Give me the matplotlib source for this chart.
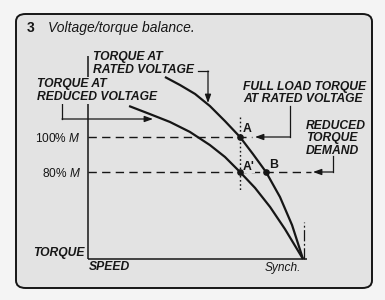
import matplotlib
matplotlib.use("Agg")
import matplotlib.pyplot as plt
from matplotlib.patches import FancyBboxPatch

plt.rcParams['font.family'] = ['Liberation Sans', 'DejaVu Sans']
plt.rcParams['mathtext.fontset'] = 'custom'
plt.rcParams['mathtext.it'] = 'Liberation Sans:italic'
plt.rcParams['mathtext.rm'] = 'Liberation Sans'

# ---------------- data (speed in % of synchronous, torque in % of M) ----------------
speed_rated = [35.8, 42.8, 49.8, 56.7, 63.7, 70.7, 76.7, 82.8, 89.3, 94.9, 100.0]
torque_rated = [134.3, 129.7, 124.6, 117.7, 109.1, 100.0, 90.3, 80.0, 65.7, 49.7, 30.3]

speed_reduced = [19.1, 28.8, 38.1, 47.4, 56.7, 63.7, 70.7, 77.7, 84.7, 91.6, 100.0]
torque_reduced = [117.7, 113.1, 108.6, 102.9, 95.4, 88.6, 80.0, 70.9, 60.0, 47.4, 30.3]

torque_levels = [100, 80]
torque_level_labels = ["100% $\\it{M}$", "80% $\\it{M}$"]

point_names = ["A", "A'", "B"]
point_speed = [70.7, 70.7, 82.8]
point_torque = [100, 80, 80]

synch_speed = 100.0

# ---------------- figure ----------------
W, H = 385, 300
ink = '#161616'
panel = '#e3e3e3'
fig = plt.figure(figsize=(W / 100, H / 100), dpi=100)
fig.patch.set_facecolor('#f4f4f4')

frame = FancyBboxPatch((16 / W, (H - 288) / H), 356 / W, 274 / H,
                       boxstyle="round,pad=0,rounding_size=0.025",
                       transform=fig.transFigure, facecolor=panel,
                       edgecolor=ink, linewidth=1.4, zorder=-5)
fig.add_artist(frame)

# pixel helpers for axes placement
px_x0, px_y0 = 88, 259           # origin
sx, sy = 2.15, 1.75              # pixels per data unit
y_bottom = (312 - px_y0) / sy    # torque value at x-axis

xlim = (0, (330 - px_x0) / sx)
ylim = (y_bottom, (312 - 40) / sy)
ax = fig.add_axes([px_x0 / W, (H - px_y0) / H,
                   (330 - px_x0) / W, (px_y0 - 40) / H])
ax.set_xlim(*xlim)
ax.set_ylim(*ylim)
ax.patch.set_alpha(0)
ax.set_zorder(1)
for s in ['top', 'right']:
    ax.spines[s].set_visible(False)
ax.spines['left'].set_bounds(y_bottom, (312 - 56) / sy)
ax.spines['bottom'].set_bounds(0, (307 - px_x0) / sx)
for s in ['left', 'bottom']:
    ax.spines[s].set_linewidth(1.1)
    ax.spines[s].set_color(ink)
    ax.spines[s].set_capstyle('butt')
ax.set_xticks([])
ax.set_yticks(torque_levels)
ax.set_yticklabels(torque_level_labels, fontsize=8.6, color=ink)
ax.tick_params(axis='y', length=0, pad=5)

# curves
ax.plot(speed_rated, torque_rated, color=ink, lw=1.6, solid_capstyle='butt', clip_on=False)
ax.plot(speed_reduced, torque_reduced, color=ink, lw=1.6, solid_capstyle='butt', clip_on=False)

# torque reference lines (dashed)
ax.plot([0, (252 - px_x0) / sx], [torque_levels[0]] * 2, color=ink, lw=1.0,
        linestyle=(0, (6, 3.8)), clip_on=False)
ax.plot([0, (311 - px_x0) / sx], [torque_levels[1]] * 2, color=ink, lw=1.0,
        linestyle=(0, (6, 3.8)), clip_on=False)

# dotted vertical through A / A'
ax.plot([point_speed[0]] * 2, [(312 - 117) / sy, (312 - 191) / sy], color=ink,
        lw=1.0, linestyle=(0, (1.2, 1.8)), clip_on=False)

# synchronous speed marker
ax.plot([synch_speed + 0.4] * 2, [y_bottom, (312 - 222) / sy], color=ink, lw=0.9,
        linestyle=(0, (9, 2, 1.5, 2)), clip_on=False)

# points
ax.plot(point_speed, point_torque, 'o', color=ink, ms=3.8, clip_on=False, zorder=5)
offsets = [(3, 8), (3, 5), (3, 7)]
for name, xs, ys, (dx, dy) in zip(point_names, point_speed, point_torque, offsets):
    ax.annotate(name, (xs, ys), xytext=(dx, dy), textcoords='offset pixels',
                fontsize=8.8, fontweight='bold', color=ink, ha='left', va='center',
                bbox=dict(facecolor=panel, edgecolor='none', pad=0.3))

# ---------------- overlay (pixel coords) ----------------
ov = fig.add_axes([0, 0, 1, 1])
ov.set_xlim(0, W)
ov.set_ylim(H, 0)
ov.axis('off')
ov.patch.set_alpha(0)
ov.set_zorder(2)

ov.text(27, 28, "3", fontsize=10, fontweight='bold', color=ink, va='center', ha='left')
ov.text(48, 28, "Voltage/torque balance.", fontsize=10, style='italic', color=ink,
        va='center', ha='left')

lab = dict(fontsize=8.7, fontweight='bold', style='italic', color=ink, ha='left',
           linespacing=1.02)

ov.text(93, 63.5, "TORQUE AT\nRATED VOLTAGE", va='center', **lab)
ov.text(37, 90.5, "TORQUE AT\nREDUCED VOLTAGE", va='center',
        bbox=dict(facecolor=panel, edgecolor='none', pad=1.0), **lab)
ov.text(243, 93, "FULL LOAD TORQUE\nAT RATED VOLTAGE", va='center', **lab)
ov.text(306, 138.5, "REDUCED\nTORQUE\nDEMAND", va='center', **lab)

ov.text(85, 253, "TORQUE", ha='right', va='center', fontsize=8.7,
        fontweight='bold', style='italic', color=ink)
ov.text(89, 266.5, "SPEED", ha='left', va='center', fontsize=8.7,
        fontweight='bold', style='italic', color=ink)
ov.text(301, 267.5, "Synch.", ha='right', va='center', fontsize=8.6,
        style='italic', color=ink)

arrow = dict(arrowstyle='-|>,head_length=0.5,head_width=0.18', color=ink, lw=0.9,
             shrinkA=0, shrinkB=0)


def leader(points):
    xs = [p[0] for p in points[:-1]]
    ys = [p[1] for p in points[:-1]]
    ov.plot(xs, ys, color=ink, lw=0.9, solid_joinstyle='miter')
    ov.annotate('', xy=points[-1], xytext=points[-2], arrowprops=arrow)


leader([(198, 71), (208, 71), (208, 103)])
leader([(62, 104), (62, 119), (153, 119)])
leader([(290, 106), (290, 137), (255, 137)])
leader([(333, 156), (333, 172), (313, 172)])

fig.savefig("out.png", dpi=100, facecolor=fig.get_facecolor())
